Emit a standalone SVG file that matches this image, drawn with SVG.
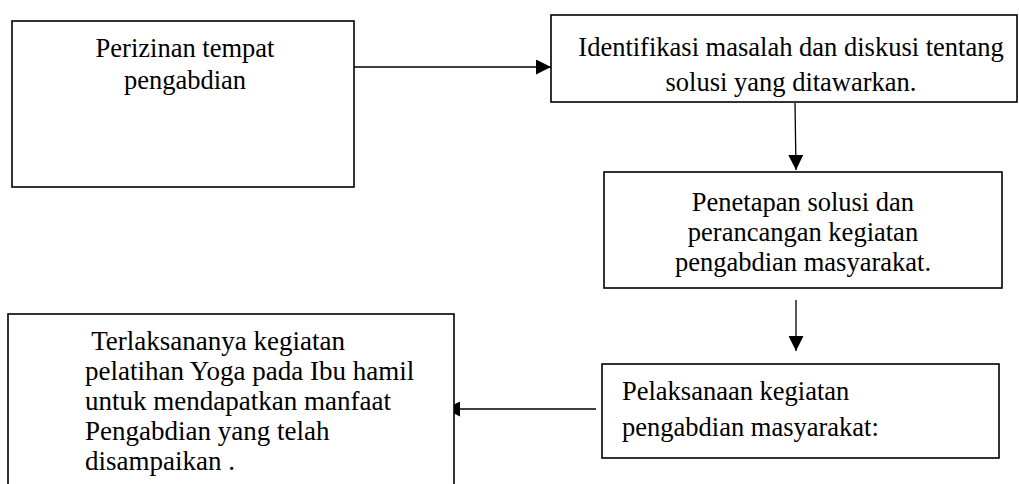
<svg xmlns="http://www.w3.org/2000/svg" width="1019" height="484" viewBox="0 0 1019 484">
<style>
.box{fill:#fff;stroke:#000;stroke-width:1.6}
.t{font-family:"Liberation Serif","Times New Roman",serif;font-size:26.5px;fill:#000}
.c{text-anchor:middle}
.b{font-size:27px}
.ln{stroke:#000;stroke-width:1.3;fill:none}
</style>
<defs>
<marker id="ah" viewBox="0 0 15 15" refX="15" refY="7.5" markerWidth="15" markerHeight="15" markerUnits="userSpaceOnUse" orient="auto">
<path d="M0,0 L15,7.5 L0,15 Z" fill="#000"/>
</marker>
</defs>
<rect width="1019" height="484" fill="#fff"/>
<g id="connectors">
<line class="ln" x1="354" y1="67" x2="551" y2="67" marker-end="url(#ah)"/>
<line class="ln" x1="795" y1="103" x2="796" y2="170" marker-end="url(#ah)"/>
<line class="ln" x1="796" y1="300" x2="796" y2="351" marker-end="url(#ah)"/>
<line class="ln" x1="596" y1="409" x2="445" y2="409" marker-end="url(#ah)"/>
</g>
<g id="node1">
<rect class="box" x="12" y="21" width="342" height="166"/>
<text class="t c" x="185" y="57">Perizinan tempat</text>
<text class="t c" x="185" y="89">pengabdian</text>
</g>
<g id="node2">
<rect class="box" x="551" y="15" width="466" height="87"/>
<text class="t c" x="791" y="56">Identifikasi masalah dan diskusi tentang</text>
<text class="t c" x="791" y="91">solusi yang ditawarkan.</text>
</g>
<g id="node3">
<rect class="box" x="604" y="172" width="398" height="116"/>
<text class="t c" x="803" y="211">Penetapan solusi dan</text>
<text class="t c" x="803" y="241">perancangan kegiatan</text>
<text class="t c" x="803" y="271">pengabdian masyarakat.</text>
</g>
<g id="node4">
<rect class="box" x="602" y="364" width="397" height="94"/>
<text class="t" x="622" y="400">Pelaksanaan kegiatan</text>
<text class="t" x="622" y="436">pengabdian masyarakat:</text>
</g>
<g id="node5">
<rect class="box" x="8" y="314" width="446" height="190"/>
<text class="t b" x="85" y="350" xml:space="preserve"> Terlaksananya kegiatan</text>
<text class="t b" x="85" y="380">pelatihan Yoga pada Ibu hamil</text>
<text class="t b" x="85" y="410">untuk mendapatkan manfaat</text>
<text class="t b" x="85" y="440">Pengabdian yang telah</text>
<text class="t b" x="85" y="470">disampaikan .</text>
</g>
</svg>
